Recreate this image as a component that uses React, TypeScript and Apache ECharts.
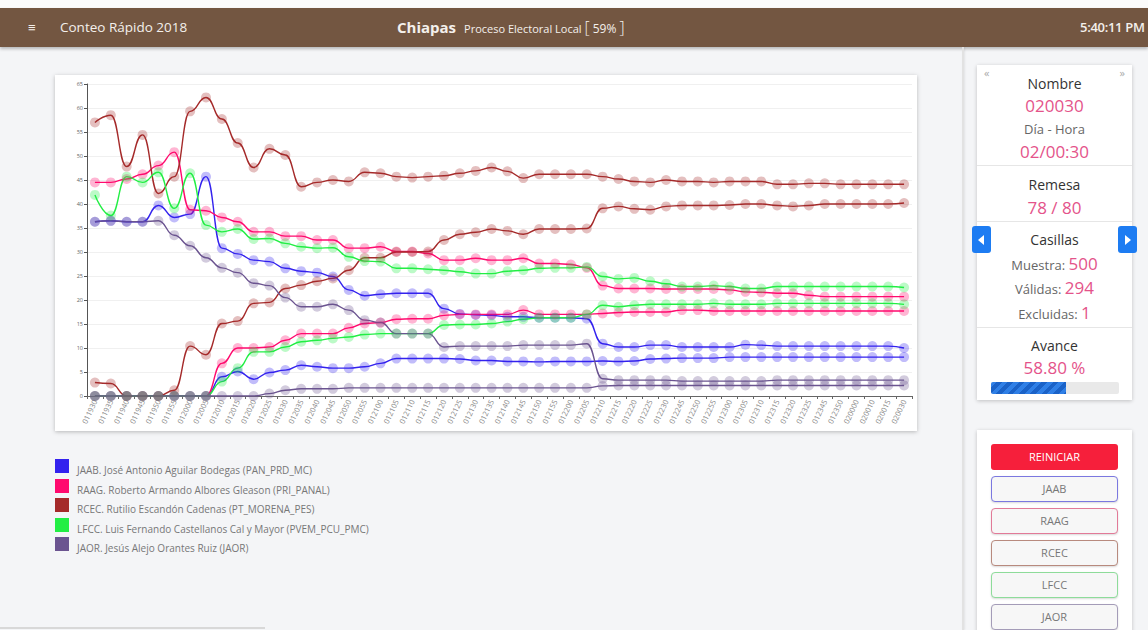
import React, { useEffect, useRef } from "react";
import * as echarts from "echarts";

const categories = [
  "011930","011935","011940","011945","011950","011955","012000","012005","012010","012015",
  "012020","012025","012030","012035","012040","012045","012050","012055","012100","012105",
  "012110","012115","012120","012125","012130","012135","012140","012145","012150","012155",
  "012200","012205","012210","012215","012220","012225","012230","012245","012250","012255",
  "012300","012305","012310","012315","012320","012325","012345","012350","020000","020010",
  "020015","020030",
];

const jaabHi = [36.3,36.5,36.3,36.3,39.7,37.2,37.9,45.7,30.8,29.6,28.3,28.0,26.6,26.0,25.7,24.9,22.1,20.9,21.2,21.4,21.4,21.4,18.2,17.1,16.9,16.8,16.5,16.5,16.3,16.3,16.3,16.1,10.9,10.2,10.2,10.6,10.6,10.2,10.2,10.2,10.2,10.7,10.6,10.4,10.4,10.4,10.4,10.4,10.4,10.4,10.4,10.0];
const jaabLo = [0,0,0,0,0,0,0,0,4.0,5.1,3.5,4.9,5.4,6.4,6.1,5.8,5.8,6.1,6.8,7.8,7.8,7.8,7.8,7.7,7.4,7.4,7.2,7.2,7.1,7.2,7.2,7.2,7.3,7.2,7.3,7.7,7.8,7.9,7.9,7.9,8.1,8.1,8.1,8.1,8.1,8.1,8.1,8.1,8.1,8.1,8.1,8.1];
const raagHi = [44.5,44.5,45.2,46.2,48.0,50.8,38.8,38.6,37.2,36.3,34.2,34.2,33.3,33.3,32.5,32.5,30.8,30.8,31.1,30.1,30.1,29.7,28.3,28.3,28.7,28.3,28.3,28.7,27.6,27.6,27.4,26.7,23.0,22.4,22.4,22.4,22.3,22.3,22.3,22.3,22.1,21.7,21.6,21.4,21.4,21.0,20.7,20.7,20.7,20.7,20.7,20.7];
const raagLo = [0,0,0,0,0,0,0,0,6.8,10.0,10.0,10.2,11.6,13.0,13.0,13.0,14.2,15.1,15.3,16.0,16.1,16.1,16.8,17.0,17.0,17.0,17.0,17.9,17.0,17.0,17.0,17.0,17.2,17.4,17.5,17.5,17.5,17.9,17.9,17.7,17.7,17.7,17.7,17.7,17.7,17.7,17.7,17.7,17.7,17.7,17.7,17.7];
const rcecHi = [57,58.5,47.8,54.4,42.2,45.7,59.3,62.2,57.7,52.7,47.6,51.5,50.2,43.6,44.5,45.0,44.7,46.6,46.4,45.7,45.5,45.7,45.9,46.4,46.9,47.6,46.8,45.4,46.2,46.2,46.2,46.2,45.7,45.2,44.7,44.5,45.0,44.7,44.7,44.5,44.7,44.7,44.7,44.1,44.1,44.3,44.3,44.1,44.1,44.1,44.1,44.1];
const rcecLo = [2.8,2.6,0,0,0,1.2,10.4,8.6,15.1,15.6,19.3,19.5,22.4,23.1,23.9,24.5,26.2,28.8,28.8,30.0,30.0,30.1,32.5,33.7,34.1,34.8,34.4,33.7,34.8,34.8,34.8,34.9,39.1,39.5,39.0,38.8,39.5,39.7,39.7,39.7,39.8,40.0,40.0,39.7,39.5,39.7,40.0,40.0,40.0,40.0,40.0,40.2];
const lfccHi = [41.9,37.6,45.7,44.5,46.6,39.1,46.4,35.6,34.2,34.8,32.7,32.8,31.8,31.1,30.8,30.9,29.0,28.1,28.0,26.6,26.6,26.4,26.2,25.9,25.5,25.5,26.0,26.2,26.6,26.7,26.7,26.9,24.9,24.4,24.6,23.9,23.4,22.8,22.8,23.0,22.8,22.4,22.4,22.8,22.8,22.8,22.8,22.8,22.8,22.8,22.8,22.6];
const lfccLo = [0,0,0,0,0,0,0,0,3.0,5.8,9.2,9.2,10.2,11.3,11.6,12.0,12.3,12.8,13.0,13.0,13.0,13.0,14.8,14.9,14.9,15.1,15.5,16.0,16.3,16.3,16.3,17.0,18.9,18.6,18.9,19.1,19.1,19.1,19.1,19.3,19.1,19.1,19.1,19.3,19.3,19.3,19.3,19.3,19.3,19.3,19.3,19.1];
const jaorHi = [36.3,36.5,36.3,36.3,36.5,33.5,31.3,28.8,26.7,25.7,23.5,23.0,20.5,18.6,18.6,19.1,17.9,15.8,15.3,13.0,13.0,13.0,10.2,10.4,10.4,10.4,10.4,10.6,10.6,10.6,10.6,10.9,3.6,3.3,3.3,3.3,3.3,3.1,3.1,3.1,3.1,3.1,3.1,3.3,3.3,3.3,3.3,3.3,3.3,3.3,3.3,3.3];
const jaorLo = [0,0,0,0,0,0,0,0,0,0,0,0.5,1.2,1.5,1.5,1.5,1.7,1.7,1.7,1.7,1.7,1.7,1.7,1.7,1.7,1.7,1.7,1.7,1.7,1.7,1.7,1.7,2.1,2.2,2.2,2.2,2.2,2.2,2.2,2.2,2.2,2.2,2.2,2.2,2.2,2.2,2.2,2.2,2.2,2.2,2.2,2.2];

const candidateCodes = ["JAAB", "RAAG", "RCEC", "LFCC", "JAOR"];
const candidateNames = [
  "JAAB. José Antonio Aguilar Bodegas (PAN_PRD_MC)",
  "RAAG. Roberto Armando Albores Gleason (PRI_PANAL)",
  "RCEC. Rutilio Escandón Cadenas (PT_MORENA_PES)",
  "LFCC. Luis Fernando Castellanos Cal y Mayor (PVEM_PCU_PMC)",
  "JAOR. Jesús Alejo Orantes Ruiz (JAOR)",
];
const candidateColors = ["#3322ee", "#ff0a6e", "#a52a2a", "#22ee44", "#6b5490"];
const buttonBorders = ["#7b78e0", "#e27a98", "#b88a7e", "#8edc9a", "#a49cb8"];
const seriesData = [
  [jaabHi, jaabLo],
  [raagHi, raagLo],
  [rcecHi, rcecLo],
  [lfccHi, lfccLo],
  [jaorHi, jaorLo],
];

const FONT = "'Open Sans', 'Noto Sans', sans-serif";
const PINK = "#e4538a";

function Chart() {
  const ref = useRef<HTMLDivElement>(null);
  useEffect(() => {
    if (!ref.current) return;
    const chart = echarts.init(ref.current, undefined, { renderer: "svg" });
    const series: any[] = [];
    seriesData.forEach((pair, i) => {
      pair.forEach((d, j) => {
        series.push({
          name: candidateCodes[i] + (j === 0 ? "_a" : "_b"),
          type: "line",
          data: d,
          smooth: 0.5,
          smoothMonotone: "x",
          symbol: "circle",
          symbolSize: 10,
          showAllSymbol: true,
          lineStyle: { color: candidateColors[i], width: 1.4 },
          itemStyle: { color: candidateColors[i], opacity: 0.3 },
          emphasis: { disabled: true },
        });
      });
    });
    chart.setOption({
      animation: false,
      grid: { left: 32, right: 5, top: 9, bottom: 35 },
      xAxis: {
        type: "category",
        data: categories,
        boundaryGap: true,
        axisLine: { lineStyle: { color: "#666" } },
        axisTick: { show: true, length: 3, lineStyle: { color: "#666" } },
        axisLabel: { rotate: 65, fontSize: 7.5, color: "#888", interval: 0, margin: 4, fontFamily: FONT },
      },
      yAxis: {
        type: "value",
        min: 0,
        max: 65,
        interval: 5,
        axisLine: { show: true, lineStyle: { color: "#555" } },
        axisTick: { show: true, length: 3, lineStyle: { color: "#555" } },
        axisLabel: { fontSize: 5.5, color: "#666", margin: 4, fontFamily: FONT },
        splitLine: { lineStyle: { color: "#f0f0f0" } },
      },
      series,
    });
    return () => chart.dispose();
  }, []);
  return <div ref={ref} style={{ width: 862, height: 356 }} />;
}

const abs = (o: any): React.CSSProperties => ({ position: "absolute", ...o });

function CenterText({ y, children, size = 14, color = "#333" }: any) {
  return (
    <div style={abs({ left: 0, width: 155, top: y - 12, height: 24, lineHeight: "24px", textAlign: "center", fontSize: size, color, whiteSpace: "nowrap" })}>
      {children}
    </div>
  );
}

export default function App() {
  return (
    <div style={abs({ position: "fixed", left: 0, top: 0, width: 1148, height: 630, overflow: "hidden", background: "#f4f5f7", fontFamily: FONT })}>
      {/* top strip + header */}
      <div style={abs({ left: 0, top: 0, width: 1148, height: 8, background: "#fbfbfb", borderBottom: "1px solid #e4e4e4" })} />
      <div style={abs({ left: 0, top: 8, width: 1148, height: 39, background: "#735641", boxShadow: "0 2px 3px rgba(0,0,0,0.25)", color: "#f4f0ec" })}>
        <div style={abs({ left: 28, top: 0, height: 39, lineHeight: "38px", fontSize: 13 })}>≡</div>
        <div style={abs({ left: 60, top: 0, height: 39, lineHeight: "39px", fontSize: 13.5, whiteSpace: "nowrap" })}>Conteo Rápido 2018</div>
        <div style={abs({ left: 397, top: 0, height: 39, lineHeight: "39px", whiteSpace: "nowrap" })}>
          <span style={{ fontSize: 15, fontWeight: 700 }}>Chiapas</span>
          <span style={{ fontSize: 11, marginLeft: 8 }}>Proceso Electoral Local </span>
          <span style={{ fontSize: 16, fontWeight: 300 }}>[</span>
          <span style={{ fontSize: 12 }}> 59% </span>
          <span style={{ fontSize: 16, fontWeight: 300 }}>]</span>
        </div>
        <div style={abs({ left: 1080, top: 0, height: 39, lineHeight: "39px", fontSize: 13, fontWeight: 600, letterSpacing: -0.3, whiteSpace: "nowrap" })}>5:40:11 PM</div>
      </div>

      {/* chart card */}
      <div style={abs({ left: 55, top: 75, width: 862, height: 356, background: "#fff", boxShadow: "0 1px 4px rgba(0,0,0,0.25)" })}>
        <Chart />
      </div>

      {/* legend */}
      {candidateNames.map((n, i) => (
        <div key={n} style={abs({ left: 55, top: 459 + i * 19.5, height: 16, whiteSpace: "nowrap" })}>
          <div style={abs({ left: 0, top: 0, width: 14, height: 14, background: candidateColors[i] })} />
          <div style={abs({ left: 22, top: 3, fontSize: 10, lineHeight: "16px", color: "#777" })}>{n}</div>
        </div>
      ))}
      <div style={abs({ left: 0, top: 627, width: 265, height: 2, background: "#d8d8d8" })} />

      {/* right separator */}
      <div style={abs({ left: 962, top: 47, width: 2, height: 583, background: "#e2e2e2", boxShadow: "1px 0 2px rgba(0,0,0,0.08)" })} />

      {/* info card */}
      <div style={abs({ left: 977, top: 65, width: 155, height: 335, background: "#fff", boxShadow: "0 1px 4px rgba(0,0,0,0.22)" })}>
        <div style={abs({ left: 7, top: 0, fontSize: 11, color: "#aaa" })}>«</div>
        <div style={abs({ right: 7, top: 0, fontSize: 11, color: "#aaa" })}>»</div>
        <CenterText y={19}>Nombre</CenterText>
        <CenterText y={41} size={17} color={PINK}>020030</CenterText>
        <CenterText y={64} size={13} color="#666">Día - Hora</CenterText>
        <CenterText y={87} size={17} color={PINK}>02/00:30</CenterText>
        <div style={abs({ left: 0, top: 100, width: 155, height: 1, background: "#e6e6e6" })} />
        <CenterText y={120}>Remesa</CenterText>
        <CenterText y={143} size={17} color={PINK}>78 / 80</CenterText>
        <div style={abs({ left: 0, top: 156, width: 155, height: 1, background: "#e6e6e6" })} />
        <CenterText y={175}>Casillas</CenterText>
        <CenterText y={199} size={13} color="#666">Muestra: <span style={{ fontSize: 17, color: PINK }}>500</span></CenterText>
        <CenterText y={223} size={13} color="#666">Válidas: <span style={{ fontSize: 17, color: PINK }}>294</span></CenterText>
        <CenterText y={248} size={13} color="#666">Excluidas: <span style={{ fontSize: 17, color: PINK }}>1</span></CenterText>
        <div style={abs({ left: 0, top: 262, width: 155, height: 1, background: "#e6e6e6" })} />
        <CenterText y={281}>Avance</CenterText>
        <CenterText y={303} size={17} color={PINK}>58.80 %</CenterText>
        <div style={abs({ left: 14, top: 317, width: 128, height: 12, background: "#e9e9e9", borderRadius: 2, overflow: "hidden" })}>
          <div style={{ width: 75, height: 12, background: "repeating-linear-gradient(135deg, #2f7fe6 0px, #2f7fe6 4px, #1a62c8 4px, #1a62c8 8px)" }} />
        </div>
      </div>
      {/* arrow buttons */}
      <div style={abs({ left: 972, top: 226, width: 19, height: 27, background: "#1d7cf2", borderRadius: 3 })}>
        <div style={abs({ left: 6, top: 9, width: 0, height: 0, borderTop: "5px solid transparent", borderBottom: "5px solid transparent", borderRight: "6px solid #fff" })} />
      </div>
      <div style={abs({ left: 1118, top: 226, width: 19, height: 27, background: "#1d7cf2", borderRadius: 3 })}>
        <div style={abs({ left: 7, top: 9, width: 0, height: 0, borderTop: "5px solid transparent", borderBottom: "5px solid transparent", borderLeft: "6px solid #fff" })} />
      </div>

      {/* buttons card */}
      <div style={abs({ left: 977, top: 430, width: 155, height: 220, background: "#fff", boxShadow: "0 1px 4px rgba(0,0,0,0.22)" })}>
        <div style={abs({ left: 14, top: 14, width: 127, height: 26, lineHeight: "26px", background: "#f61f3b", borderRadius: 3, color: "#fff", fontSize: 11, textAlign: "center" })}>REINICIAR</div>
        {candidateCodes.map((c, i) => (
          <div key={c} style={abs({ left: 14, top: 46 + i * 32, width: 127, height: 26, boxSizing: "border-box", lineHeight: "23px", background: "#f7f7f7", border: "1.5px solid " + buttonBorders[i], borderRadius: 4, color: "#777", fontSize: 11, textAlign: "center", boxShadow: "0 1px 2px rgba(0,0,0,0.15)" })}>
            {c}
          </div>
        ))}
      </div>
    </div>
  );
}
